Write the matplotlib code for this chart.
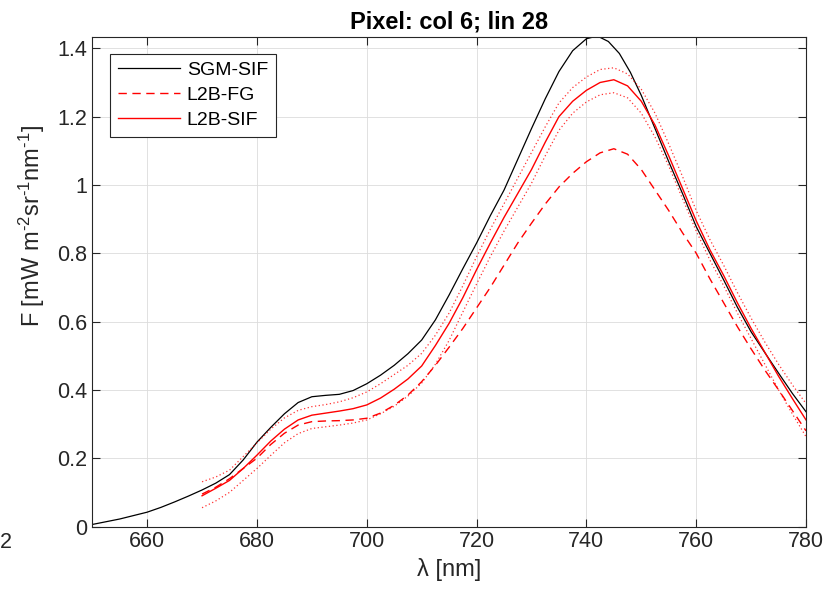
import matplotlib
matplotlib.use('Agg')
import matplotlib.pyplot as plt
import numpy as np

plt.rcParams['font.family'] = ['Liberation Sans', 'DejaVu Sans']
plt.rcParams['mathtext.fontset'] = 'custom'
plt.rcParams['mathtext.rm'] = 'Liberation Sans'
plt.rcParams['mathtext.it'] = 'Liberation Sans:italic'

# SGM-SIF reference spectrum
wl_sgm = [650, 652.5, 655, 657.5, 660, 662.5, 665, 667.5, 670, 672.5, 675, 677.5, 680, 682.5,
          685, 687.5, 690, 692.5, 695, 697.5, 700, 702.5, 705, 707.5, 710, 712.5, 715, 717.5,
          720, 722.5, 725, 727.5, 730, 732.5, 735, 737.5, 740, 742, 744, 746, 748, 750,
          752.5, 755, 757.5, 760, 762.5, 765, 767.5, 770, 772.5, 775, 777.5, 780]
sgm_sif = [0.006, 0.014, 0.022, 0.032, 0.042, 0.056, 0.072, 0.089, 0.107, 0.127, 0.152, 0.195, 0.247, 0.290,
           0.330, 0.363, 0.380, 0.384, 0.387, 0.398, 0.418, 0.443, 0.472, 0.506, 0.546, 0.605, 0.678, 0.755,
           0.830, 0.910, 0.985, 1.075, 1.165, 1.252, 1.332, 1.393, 1.428, 1.436, 1.420, 1.385, 1.330, 1.262,
           1.165, 1.068, 0.975, 0.878, 0.800, 0.722, 0.642, 0.570, 0.509, 0.449, 0.390, 0.336]

# L2B retrievals
wl_l2b = [670, 672.5, 675, 677.5, 680, 682.5, 685, 687.5, 690, 692.5, 695, 697.5, 700, 702.5,
          705, 707.5, 710, 712.5, 715, 717.5, 720, 722.5, 725, 727.5, 730, 732.5, 735, 737.5,
          740, 742.5, 745, 747.5, 750, 752.5, 755, 757.5, 760, 762.5, 765, 767.5, 770, 772.5,
          775, 777.5, 780]
l2b_fg = [0.095, 0.115, 0.140, 0.170, 0.200, 0.240, 0.273, 0.297, 0.307, 0.309, 0.310, 0.312, 0.317, 0.332,
          0.355, 0.385, 0.424, 0.472, 0.525, 0.580, 0.640, 0.700, 0.765, 0.830, 0.888, 0.944, 0.994, 1.034,
          1.068, 1.094, 1.106, 1.090, 1.045, 0.985, 0.925, 0.860, 0.800, 0.725, 0.655, 0.585, 0.520, 0.458,
          0.400, 0.340, 0.280]
l2b_sif = [0.090, 0.112, 0.135, 0.170, 0.209, 0.250, 0.285, 0.312, 0.326, 0.332, 0.338, 0.345, 0.356, 0.376,
           0.402, 0.432, 0.470, 0.530, 0.595, 0.670, 0.752, 0.830, 0.905, 0.975, 1.045, 1.125, 1.200, 1.245,
           1.277, 1.300, 1.308, 1.290, 1.245, 1.175, 1.085, 0.990, 0.895, 0.810, 0.735, 0.655, 0.580, 0.510,
           0.440, 0.375, 0.312]
l2b_sif_hi = [0.131, 0.145, 0.165, 0.205, 0.245, 0.285, 0.318, 0.340, 0.351, 0.357, 0.365, 0.377, 0.394, 0.418,
              0.445, 0.472, 0.507, 0.560, 0.625, 0.705, 0.790, 0.870, 0.945, 1.020, 1.095, 1.170, 1.240, 1.285,
              1.316, 1.338, 1.343, 1.325, 1.280, 1.210, 1.120, 1.025, 0.925, 0.840, 0.765, 0.685, 0.610, 0.540,
              0.475, 0.415, 0.360]
l2b_sif_lo = [0.055, 0.075, 0.100, 0.135, 0.170, 0.208, 0.245, 0.272, 0.287, 0.292, 0.297, 0.303, 0.312, 0.330,
              0.352, 0.382, 0.420, 0.475, 0.545, 0.628, 0.710, 0.790, 0.865, 0.935, 1.005, 1.085, 1.160, 1.210,
              1.243, 1.264, 1.270, 1.255, 1.210, 1.140, 1.055, 0.960, 0.865, 0.780, 0.705, 0.625, 0.550, 0.475,
              0.400, 0.330, 0.263]

fig = plt.figure(figsize=(8.25, 5.93), dpi=100)
ax = fig.add_axes([0.1118, 0.1121, 0.8652, 0.8260])

axcol = '#262626'
ax.plot(wl_sgm, sgm_sif, color='black', lw=0.9, label='SGM-SIF')
ax.plot(wl_l2b, l2b_fg, color='red', lw=1.0, ls=(0, (6, 4)), label='L2B-FG')
ax.plot(wl_l2b, l2b_sif, color='red', lw=1.0, label='L2B-SIF')
ax.plot(wl_l2b, l2b_sif_hi, color='red', lw=0.9, ls=(0, (1, 2)), alpha=0.8)
ax.plot(wl_l2b, l2b_sif_lo, color='red', lw=0.9, ls=(0, (1, 2)), alpha=0.8)

ax.set_xlim(650, 780)
ax.set_ylim(0, 1.434)
ax.set_xticks(np.arange(660, 781, 20))
ax.set_yticks([0, 0.2, 0.4, 0.6, 0.8, 1, 1.2, 1.4])
ax.set_yticklabels(['0', '0.2', '0.4', '0.6', '0.8', '1', '1.2', '1.4'])
ax.grid(True, color='#dcdcdc', lw=0.6)
ax.set_axisbelow(True)
ax.tick_params(direction='in', top=True, right=True, labelsize=15.5, colors=axcol, length=6, width=0.8)
for s in ax.spines.values():
    s.set_color(axcol)
    s.set_linewidth(0.8)

ax.set_title('Pixel: col 6; lin 28', fontsize=17, fontweight='bold', pad=6)
ax.set_xlabel('\u03bb [nm]', fontsize=17, color=axcol, labelpad=4)
ax.set_ylabel('F [mW m$^{\u20102}$sr$^{\u20101}$nm$^{\u20101}$]', fontsize=17, color=axcol)
ax.yaxis.set_label_coords(-0.063, 0.613)

leg = ax.legend(loc='upper left', bbox_to_anchor=(0.0248, 0.965), fontsize=14, fancybox=False,
                edgecolor=axcol, framealpha=1, borderpad=0.4, labelspacing=0.38, handlelength=3.2,
                handletextpad=0.35, borderaxespad=0)
leg.get_frame().set_linewidth(0.8)

fig.text(0.0, 1 - 543 / 593, '2', fontsize=15.5, color=axcol, va='center', ha='left')

fig.savefig('out.png', dpi=100)
